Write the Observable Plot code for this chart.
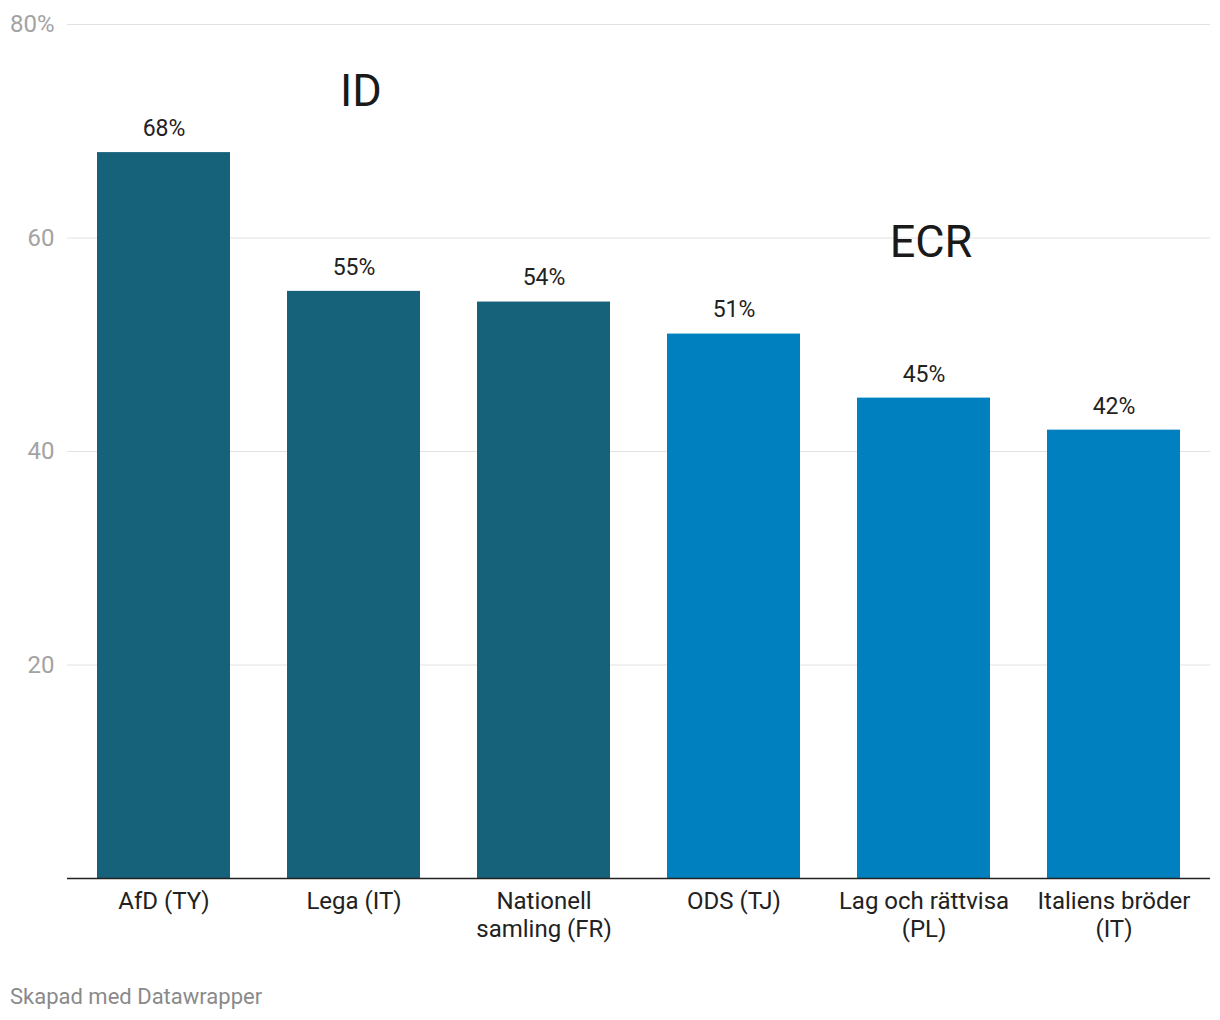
<!DOCTYPE html>
<html>
<head>
<meta charset="utf-8">
<script src="https://cdn.jsdelivr.net/npm/d3@7"></script>
<script src="https://cdn.jsdelivr.net/npm/@observablehq/plot@0.6"></script>
<style>
  html, body { margin: 0; padding: 0; background: #fff; }
  body { width: 1220px; font-family: Roboto, "Noto Sans", sans-serif; }
  #chart svg { display: block; }
  #caption { margin: 36px 0 0 10px; font-size: 22px; line-height: 26px; color: #8a8a8a; }
</style>
</head>
<body>
<div id="chart"></div>
<div id="caption">Skapad med Datawrapper</div>
<script>
const parties = ["AfD (TY)", "Lega (IT)", "Nationell\nsamling (FR)", "ODS (TJ)", "Lag och rättvisa\n(PL)", "Italiens bröder\n(IT)"];
const shares = [68, 55, 54, 51, 45, 42];
const groups = ["ID", "ID", "ID", "ECR", "ECR", "ECR"];
const groupNames = ["ID", "ECR"];
const groupColors = ["#16627b", "#0080be"];
const yTicks = [20, 40, 60, 80];
// group annotation labels (placed in data space)
const annParty = ["Lega (IT)", "Lag och rättvisa\n(PL)"];
const annY = [73.7, 59.6];
const annText = ["ID", "ECR"];

const data = parties.map((p, i) => ({party: p, share: shares[i], group: groups[i]}));
const ann = annText.map((t, i) => ({party: annParty[i], y: annY[i], text: t}));

const chart = Plot.plot({
  width: 1220,
  height: 948,
  marginTop: 24,
  marginBottom: 70,
  marginLeft: 67,
  marginRight: 10,
  style: {fontFamily: "Roboto, sans-serif", background: "#fff"},
  x: {domain: parties, paddingInner: 0.3, paddingOuter: 0.15, label: null},
  y: {domain: [0, 80], label: null},
  color: {domain: groupNames, range: groupColors},
  marks: [
    Plot.gridY(yTicks, {stroke: "#e2e2e2", strokeOpacity: 1, strokeWidth: 1}),
    Plot.axisY(yTicks, {
      tickSize: 0, tickPadding: 13, fontSize: 24, fill: "#a3a3a3",
      tickFormat: d => d === 80 ? "80%" : String(d), label: null
    }),
    Plot.barY(data, {x: "party", y: "share", fill: "group"}),
    Plot.ruleY([0], {stroke: "#222", strokeWidth: 1.6}),
    Plot.axisX({
      tickSize: 0, tickPadding: 11, fontSize: 24, fill: "#222", lineHeight: 1.167, label: null
    }),
    Plot.text(data, {x: "party", y: "share", text: d => d.share + "%", dy: -24, fontSize: 23, fill: "#222"}),
    Plot.text(ann, {x: "party", y: "y", text: "text", dx: 7, fontSize: 45, fill: "#1a1a1a"})
  ]
});
document.getElementById("chart").appendChild(chart);
</script>
</body>
</html>
